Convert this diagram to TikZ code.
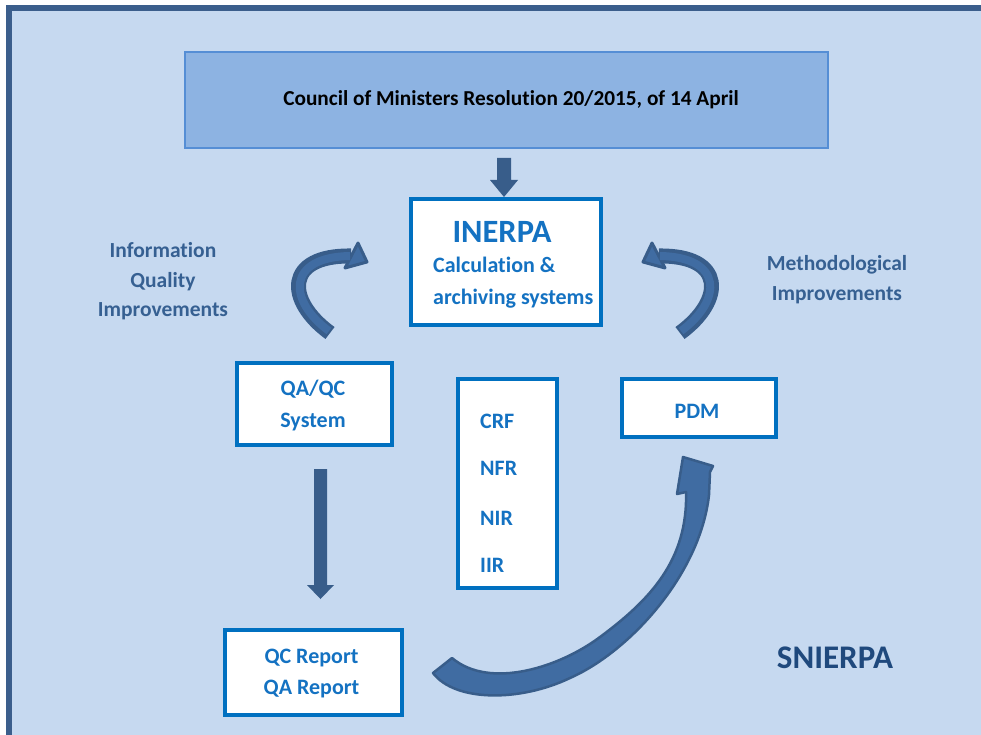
\documentclass[tikz,border=0pt]{standalone}
\usepackage{fontspec}
\setmainfont{Carlito}[Ligatures=NoCommon]
\definecolor{bg}{RGB}{198,217,240}
\definecolor{frame}{RGB}{59,94,140}
\definecolor{topfill}{RGB}{141,179,226}
\definecolor{topline}{RGB}{85,142,213}
\definecolor{boxline}{RGB}{0,112,192}
\definecolor{boxtext}{RGB}{20,114,194}
\definecolor{labeltext}{RGB}{54,96,146}
\definecolor{titletext}{RGB}{31,73,125}
\definecolor{arrdark}{RGB}{56,93,138}
\definecolor{arrmid}{RGB}{64,108,162}
\definecolor{arrlight}{RGB}{78,128,190}
\begin{document}
\begin{tikzpicture}[x=1pt,y=-1pt,
  topbox/.style={draw=topline, fill=topfill, line width=2pt, inner sep=0pt},
  bluebox/.style={draw=boxline, fill=white, line width=4.5pt, inner sep=0pt},
  boxtxt/.style={text=boxtext, font=\fontsize{22}{26}\selectfont\bfseries, inner sep=0pt},
  lbltxt/.style={text=labeltext, font=\fontsize{21.5}{26}\selectfont\bfseries, inner sep=0pt, anchor=base},
  blockarrow/.style={fill=arrdark},
  curveout/.style={draw=arrdark, line width=15pt},
  curvein/.style={draw=arrmid, line width=8pt},
  headstyle/.style={fill=arrmid, draw=arrdark, line width=3pt, line join=round},
  bigarrow/.style={fill=arrmid, draw=arrdark, line width=2.5pt, line join=round}
]
\useasboundingbox (0,0) rectangle (981,735);
\fill[white] (0,0) rectangle (981,735);
\fill[bg] (9,8) rectangle (981,735);
\draw[frame, line width=6pt] (9,735) -- (9,8) -- (981,8);

% boxes
\node[topbox, minimum width=643pt, minimum height=96pt] (council) at (506.5,100) {};
\node[anchor=base, inner sep=0pt, font=\fontsize{21.3}{25}\selectfont\bfseries] (counciltxt) at (511,106) {Council of Ministers Resolution 20/2015, of 14 April};

\node[bluebox, minimum width=190pt, minimum height=126pt] (inerpa) at (506,262) {};
\node[boxtxt, anchor=base, font=\fontsize{32.5}{36}\selectfont\bfseries] (inerpatxt) at (502,242) {INERPA};
\node[boxtxt, anchor=base west] (calc) at (433,272) {Calculation \&};
\node[boxtxt, anchor=base west] (arch) at (433,304) {archiving systems};

\node[bluebox, minimum width=155pt, minimum height=82pt] (qaqc) at (314.5,404) {};
\node[boxtxt, anchor=base] (qaqc1) at (313,395) {QA/QC};
\node[boxtxt, anchor=base] (qaqc2) at (313,427) {System};

\node[bluebox, minimum width=99pt, minimum height=209pt] (crf) at (507.5,483.5) {};
\node[boxtxt, anchor=base west] (crf1) at (480,428) {CRF};
\node[boxtxt, anchor=base west] (crf2) at (480,475) {NFR};
\node[boxtxt, anchor=base west] (crf3) at (480,525) {NIR};
\node[boxtxt, anchor=base west] (crf4) at (480,572) {IIR};

\node[bluebox, minimum width=154pt, minimum height=58pt] (pdm) at (699,408) {};
\node[boxtxt, anchor=base] (pdmtxt) at (697,418) {PDM};

\node[bluebox, minimum width=177pt, minimum height=85pt] (qcrep) at (313.5,672.5) {};
\node[boxtxt, anchor=base] (qc1) at (311.5,663) {QC Report};
\node[boxtxt, anchor=base] (qc2) at (311.5,694) {QA Report};

% labels
\node[lbltxt] (info1) at (163,257) {Information};
\node[lbltxt] (info2) at (163,287) {Quality};
\node[lbltxt] (info3) at (163,316) {Improvements};
\node[lbltxt] (meth1) at (837,270) {Methodological};
\node[lbltxt] (meth2) at (837,300) {Improvements};
\node[anchor=base, inner sep=0pt, text=titletext, font=\fontsize{33}{38}\selectfont\bfseries] (snierpa) at (835,668) {SNIERPA};

% straight block arrows
\fill[blockarrow] (497,158) -- (511,158) -- (511,180) -- (518,180) -- (504,197) -- (490,180) -- (497,180) -- cycle;
\fill[blockarrow] (314,469) -- (327,469) -- (327,585) -- (334,585) -- (320.5,599) -- (307,585) -- (314,585) -- cycle;

% left curved arrow
\coordinate (lt) at (330,333);
\coordinate (lh) at (351,256);
\draw[curveout] (lt) .. controls (285,300) and (285,255) .. (lh);
\filldraw[headstyle] (358,243) -- (367,262) -- (345,268) -- cycle;
\draw[curvein] (329,331) .. controls (287,300) and (287,257) .. (350,256);

% right curved arrow
\coordinate (rt) at (680,333);
\coordinate (rh) at (659,256);
\draw[curveout] (rt) .. controls (725,300) and (725,255) .. (rh);
\filldraw[headstyle] (652,243) -- (643,262) -- (665,268) -- cycle;
\draw[curvein] (681,331) .. controls (723,300) and (723,257) .. (660,256);

% big curved arrow from QC report to PDM
\filldraw[bigarrow] (433,673)
  .. controls (455,702) and (520,702) .. (570,678)
  .. controls (629,652) and (700,575) .. (709,495)
  -- (710,472) -- (713,466) -- (683,457) -- (677,494) -- (686,492)
  .. controls (688,560) and (650,600) .. (600,637)
  .. controls (560,667) and (490,690) .. (452,658) -- cycle;
\end{tikzpicture}
\end{document}
